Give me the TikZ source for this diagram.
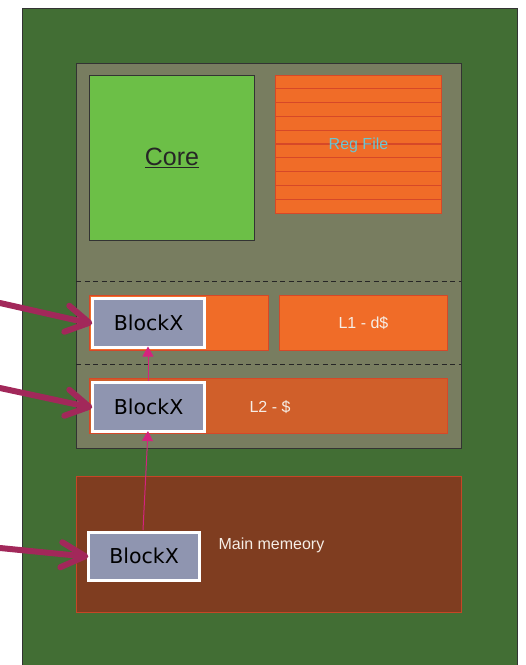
\documentclass[tikz,border=0pt]{standalone}
\usepackage{fontspec}
\setmainfont{Liberation Sans}
\newfontfamily\blockfont{DejaVu Sans}
\usetikzlibrary{arrows.meta}
\definecolor{outergreen}{RGB}{66,110,52}
\definecolor{coregray}{RGB}{120,125,96}
\definecolor{coregreen}{RGB}{108,191,71}
\definecolor{orng}{RGB}{240,108,40}
\definecolor{orngdark}{RGB}{208,95,42}
\definecolor{orngborder}{RGB}{214,72,40}
\definecolor{mainmem}{RGB}{127,61,32}
\definecolor{blockfill}{RGB}{143,149,176}
\definecolor{bigarrow}{RGB}{162,40,90}
\definecolor{pinkarrow}{RGB}{213,35,127}
\definecolor{regtext}{RGB}{108,197,208}
\definecolor{lighttext}{RGB}{246,238,230}
\tikzset{
  box/.style={draw=orngborder, line width=1pt, inner sep=0pt},
  blockx/.style={draw=white, line width=2.5pt, fill=blockfill, inner sep=0pt,
    font=\blockfont\fontsize{20.5}{24}\selectfont, text=black},
  lbl/.style={text=lighttext, font=\fontsize{16}{19}\selectfont},
  bigarr/.style={draw=bigarrow, line width=6pt, line cap=round, line join=round},
  smallarr/.style={draw=pinkarrow, line width=1pt, -{Triangle[length=10pt,width=11pt]}},
  dashsep/.style={draw=black!85, dash pattern=on 5pt off 3.5pt, line width=1pt}
}
\begin{document}
\begin{tikzpicture}[x=1pt,y=-1pt]
\useasboundingbox (0,0) rectangle (526,665);
\fill[white] (0,0) rectangle (526,665);
% outer board
\fill[outergreen, draw=black!80, line width=1pt] (22,8) rectangle (517,672);
% core complex
\fill[coregray, draw=black!80, line width=1pt] (76,63) rectangle (461,448);
% core
\node[draw=black!80, line width=1pt, fill=coregreen, minimum width=165pt, minimum height=165pt, anchor=north west, inner sep=0pt,
  font=\fontsize{25}{30}\selectfont, text=black!85] (core) at (89,75) {\underline{Core}};
% reg file
\node[box, fill=orng, minimum width=166pt, minimum height=138pt, anchor=north west] (reg) at (275,75) {};
\foreach \i in {1,...,9} {
  \draw[orngborder, line width=1.2pt] (275,{75+\i*13.8}) -- (441,{75+\i*13.8});
}
\node[text=regtext, font=\fontsize{16}{19}\selectfont] (reglbl) at ([yshift=-1pt]reg.center) {Reg File};
% dashed separators
\draw[dashsep] (76,281) -- (461,281);
\draw[dashsep] (76,364) -- (461,364);
% L1 boxes
\node[box, fill=orng, minimum width=179pt, minimum height=55pt, anchor=north west] (l1i) at (89,295) {};
\node[box, fill=orng, minimum width=168pt, minimum height=55pt, anchor=north west, lbl] (l1d) at (279,295) {L1 - d\$};
% L2
\node[box, fill=orngdark, minimum width=358pt, minimum height=55pt, anchor=north west] (l2) at (89,378) {};
\node[lbl, anchor=west] (l2lbl) at (246,407) {L2 - \$};
% main memory
\node[draw=orngborder!80!mainmem, line width=1pt, fill=mainmem, minimum width=385pt, minimum height=136pt, anchor=north west, inner sep=0pt] (mem) at (76,476) {};
\node[lbl, anchor=west] (memlbl) at (215,545) {Main memeory};
% BlockX nodes
\node[blockx, minimum width=112pt, minimum height=49pt, anchor=north west] (b1) at (91.3,297) {BlockX};
\node[blockx, minimum width=112pt, minimum height=49pt, anchor=north west] (b2) at (91.3,381) {BlockX};
\node[blockx, minimum width=111pt, minimum height=48pt, anchor=north west] (b3) at (87.3,531) {BlockX};
% incoming arrows
\coordinate (s1) at (0,303);
\coordinate (s2) at (0,388);
\coordinate (s3) at (0,548);
\draw[bigarr] (s1) -- ([shift={(-4,0)}]b1.west);
\draw[bigarr] ([shift={(-22,-17)}]b1.west) -- ([shift={(-2,0)}]b1.west) -- ([shift={(-27,9)}]b1.west);
\draw[bigarr] (s2) -- ([shift={(-4,0)}]b2.west);
\draw[bigarr] ([shift={(-22,-17)}]b2.west) -- ([shift={(-2,0)}]b2.west) -- ([shift={(-27,9)}]b2.west);
\draw[bigarr] (s3) -- ([shift={(-4,0)}]b3.west);
\draw[bigarr] ([shift={(-25,-14)}]b3.west) -- ([shift={(-2,0)}]b3.west) -- ([shift={(-27,11)}]b3.west);
% promotion arrows
\draw[smallarr] (b2.north -| 148,0) -- (148,346.5);
\draw[smallarr] (143,530) -- (148,431);
\end{tikzpicture}
\end{document}
